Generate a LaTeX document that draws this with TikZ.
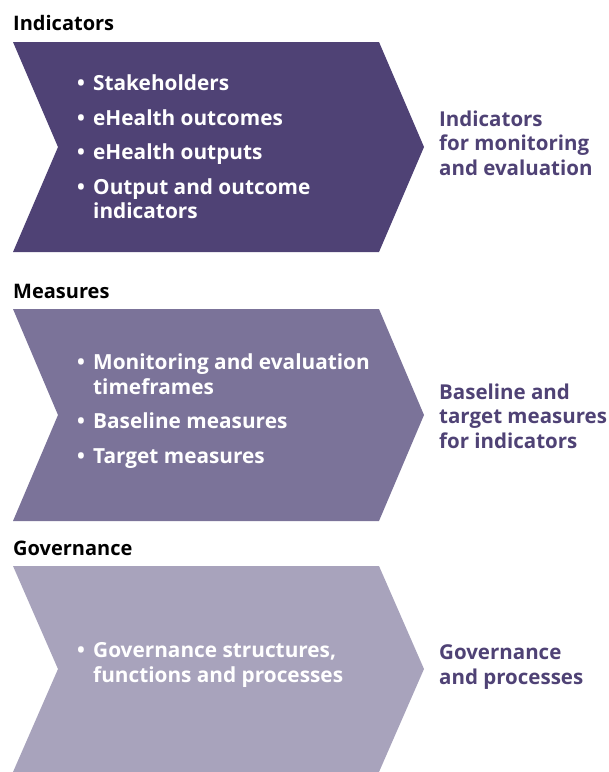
\documentclass[tikz,border=0pt]{standalone}
\usepackage{fontspec}
\setmainfont{Open Sans}
\definecolor{ehdark}{HTML}{4F4275}
\definecolor{ehmid}{HTML}{7B7399}
\definecolor{ehlight}{HTML}{A8A3BC}
\newcommand{\bitem}[1]{\makebox[16pt][l]{\textbullet}#1}
\newcommand{\bcont}[1]{\hspace*{16pt}#1}
\tikzset{
  heading/.style={anchor=base west, inner sep=0pt, text=black, font=\fontsize{20}{24.5}\selectfont\bfseries},
  bullets/.style={anchor=west, inner sep=0pt, align=left, text=white, font=\fontsize{20.8}{24.5}\selectfont\bfseries},
  result/.style={anchor=west, inner sep=0pt, align=left, text=ehdark, font=\fontsize{20.5}{24.5}\selectfont\bfseries}
}
\begin{document}
\begin{tikzpicture}[x=1pt,y=-1pt]
    \useasboundingbox (0,0) rectangle (609,772);
    \foreach \t/\b/\c in {42/252/ehdark,309/521/ehmid,566/772/ehlight} {
        \fill[\c] (13,\t) -- (379,\t) -- (424,{(\t+\b)/2}) -- (379,\b) -- (13,\b) -- (58,{(\t+\b)/2}) -- cycle;
    }
    \node[heading] (indhead) at (13,30) {Indicators};
    \node[heading] (meahead) at (13,298) {Measures};
    \node[heading] (govhead) at (13,555) {Governance};
    \node[bullets] (indlist) at (77,147) {\bitem{Stakeholders}\\[10pt] \bitem{eHealth outcomes}\\[10pt] \bitem{eHealth outputs}\\[10pt] \bitem{Output and outcome}\\ \bcont{indicators}};
    \node[bullets] (mealist) at (77,411) {\bitem{Monitoring and evaluation}\\ \bcont{timeframes}\\[10pt] \bitem{Baseline measures}\\[10pt] \bitem{Target measures}};
    \node[bullets] (govlist) at (77,665) {\bitem{Governance structures,}\\ \bcont{functions and processes}};
    \node[result] (indout) at (439,143) {Indicators\\ for monitoring\\ and evaluation};
    \node[result] (meaout) at (439,416) {Baseline and\\ target measures\\ for indicators};
    \node[result] (govout) at (439,667) {Governance\\ and processes};
\end{tikzpicture}
\end{document}
